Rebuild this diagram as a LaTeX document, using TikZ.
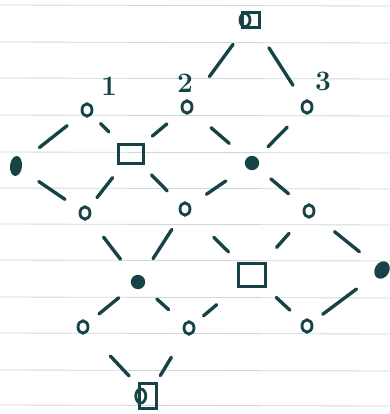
\documentclass[tikz,border=0pt]{standalone}
\usepackage{tikz}
\usetikzlibrary{calc,shapes.geometric}
\definecolor{ink}{RGB}{22,68,70}
\definecolor{rule}{RGB}{208,216,218}

\begin{document}
\begin{tikzpicture}[x=0.25mm,y=-0.25mm,
    zero/.style={draw=ink,ellipse,line width=2pt,minimum width=2.5mm,minimum height=3.1mm,inner sep=0pt},
    blob/.style={fill=ink,circle,inner sep=0pt,minimum size=3.6mm},
    box/.style={draw=ink,line width=2.3pt,rectangle,inner sep=0pt},
    link/.style={ink,line width=2.4pt,line cap=round},
    digit/.style={text=ink,font=\fontsize{20}{22}\selectfont\bfseries}]
  \useasboundingbox (0,0) rectangle (390,414);
  \fill[white] (0,0) rectangle (390,414);
  \foreach \y in {5,42,78,115,152,188,224,260,297,333,370,405}
    \draw[rule,line width=0.6pt] (0,\y) -- (390,\y+1);

  \node[box,minimum width=4.2mm,minimum height=3.6mm] (top) at (251,20) {};
  \node[zero,minimum height=3.3mm] (top0) at ([xshift=1mm]top.west) {};
  \node[zero] (o1) at (87,110) {};
  \node[zero] (o2) at (187,107) {};
  \node[zero] (o3) at (307,107) {};
  \node[blob,ellipse,minimum width=3mm,minimum height=5mm,rotate=-6] (lf) at (16,166) {};
  \node[box,minimum width=6.3mm,minimum height=4.6mm] (s1) at (131,154) {};
  \node[blob] (f2) at (252,163) {};
  \node[zero] (o4) at (85,213) {};
  \node[zero] (o5) at (185,209) {};
  \node[zero] (o6) at (309,211) {};
  \node[blob] (f3) at (138,282) {};
  \node[box,minimum width=6.8mm,minimum height=5.8mm] (s2) at (252,275) {};
  \node[blob,ellipse,minimum width=3.6mm,minimum height=4.6mm,rotate=-30] (rf) at (382,270) {};
  \node[zero] (o7) at (83,327) {};
  \node[zero] (o8) at (189,328) {};
  \node[zero] (o9) at (307,326) {};
  \node[box,minimum width=4.2mm,minimum height=6.2mm] (bot) at (148,396) {};
  \node[zero,minimum width=2.5mm,minimum height=3.5mm] (bot0) at ([xshift=0.7mm]bot.west) {};

  \node[digit] (n1) at (109,86) {1};
  \node[digit] (n2) at (185,83) {2};
  \node[digit] (n3) at (323,81) {3};

  \foreach \a/\b/\s/\e in {top/o2/.28/.65, top/o3/.32/.75, o1/lf/.28/.67, o1/s1/.31/.5,
      o2/s1/.36/.62, o2/f2/.37/.65, o3/f2/.36/.71, lf/o4/.33/.71, s1/o4/.4/.74,
      s1/o5/.38/.67, f2/o5/.39/.68, f2/o6/.33/.64, o4/f3/.35/.67, o5/f3/.28/.68,
      o5/s2/.43/.65, o6/s2/.35/.57, o6/rf/.35/.69, f3/o7/.35/.71, f3/o8/.37/.6,
      o8/s2/.23/.44, s2/o9/.44/.69, rf/o9/.34/.79, o7/bot/.42/.71, o8/bot/.43/.7}
    \draw[link] ($(\a)!\s!(\b)$) -- ($(\a)!\e!(\b)$);
\end{tikzpicture}
\end{document}
